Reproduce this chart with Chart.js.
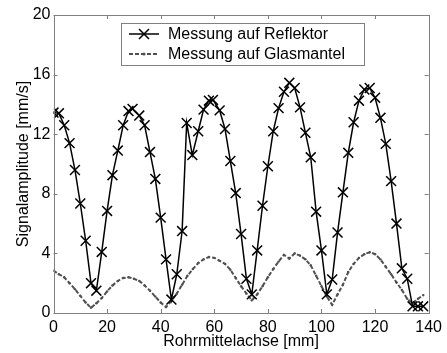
<!DOCTYPE html>
<html>
<head>
<meta charset="utf-8">
<script src="https://cdn.jsdelivr.net/npm/chart.js@4"></script>
<style>
  html, body { margin: 0; padding: 0; background: #fff; }
  #wrap { width: 447px; height: 353px; }
</style>
</head>
<body>
<div id="wrap"><canvas id="chart" width="447" height="353"></canvas></div>
<script>
// Messung auf Reflektor (x in mm, Amplitude in mm/s)
const reflX = [0, 2, 4, 6, 8, 10, 12, 14, 16, 18, 20, 22, 24, 26, 28, 29.5, 32, 34, 36, 38,
  40, 42, 44, 46, 48, 49.7, 51.8, 54, 56, 58, 59.5, 62, 64, 66, 68, 70, 72, 74, 76, 78,
  80, 82, 84, 86, 88, 90, 92, 94, 96, 98, 100, 102, 104, 106, 108, 110, 112, 114, 116, 118,
  120, 122, 124, 126, 128, 130, 132, 134, 136, 138];
const reflY = [13.45, 13.4, 12.6, 11.4, 9.6, 7.35, 4.85, 2.0, 1.5, 4.1, 6.85, 9.25, 10.9, 12.6, 13.55, 13.7, 13.25, 12.6, 10.8, 9.0,
  6.4, 3.6, 0.9, 2.6, 5.5, 12.75, 10.6, 12.2, 13.65, 14.25, 14.3, 13.6, 12.35, 10.2, 8.05, 5.3, 2.3, 1.25, 4.2, 7.2,
  9.85, 12.2, 13.75, 14.85, 15.45, 15.1, 13.8, 12.1, 10.45, 6.8, 4.2, 1.25, 2.25, 5.4, 8.1, 10.75, 12.8, 14.25, 15.0, 15.1,
  14.45, 13.1, 11.35, 8.85, 6.0, 3.0, 2.3, 0.45, 0.45, 0.45];

// Messung auf Glasmantel
const glasX = [0, 2, 4, 6, 8, 10, 12, 14, 16, 18, 20, 22, 24, 26, 28, 30, 32, 34, 36, 38,
  40, 42, 44, 46, 48, 50, 52, 54, 56, 58, 60, 62, 64, 66, 68, 70, 72, 74, 76, 78,
  80, 82, 84, 86, 88, 90, 92, 94, 96, 98, 100, 102, 104, 106, 108, 110, 112, 114, 116, 118,
  120, 122, 124, 126, 128, 130, 132, 134, 136, 138];
const glasY = [2.85, 2.6, 2.4, 2.0, 1.6, 1.15, 0.7, 0.35, 0.65, 1.0, 1.45, 1.85, 2.15, 2.35, 2.4, 2.3, 2.15, 1.85, 1.5, 1.1,
  0.7, 0.4, 0.8, 1.3, 1.9, 2.5, 2.95, 3.35, 3.6, 3.76, 3.7, 3.5, 3.3, 2.9, 2.35, 1.8, 1.3, 0.85, 1.25, 1.8,
  2.4, 2.95, 3.45, 3.9, 3.65, 4.0, 3.85, 3.6, 3.2, 2.5, 1.8, 1.1, 0.55, 1.25, 1.9, 2.75, 3.3, 3.7, 3.95, 4.08,
  3.95, 3.6, 3.1, 2.6, 2.05, 1.55, 0.95, 0.65, 0.95, 1.2];

const xTicks = [0, 20, 40, 60, 80, 100, 120, 140];
const yTicks = [0, 4, 8, 12, 16, 20];
const labels = ['Messung auf Reflektor', 'Messung auf Glasmantel'];

const FONT = 'Arial, "Liberation Sans", sans-serif';
const AXIS_COLOR = '#808080';

function toPoints(xs, ys) {
  return xs.map((x, i) => ({ x: x, y: ys[i] }));
}

// box around plot + ticks pointing inward (MATLAB look)
const boxTicks = {
  id: 'boxTicks',
  afterDraw(chart) {
    const { ctx, chartArea: a, scales } = chart;
    const len = 4;
    ctx.save();
    ctx.strokeStyle = AXIS_COLOR;
    ctx.lineWidth = 1;
    ctx.strokeRect(Math.round(a.left) + 0.5, Math.round(a.top) + 0.5,
      Math.round(a.right - a.left), Math.round(a.bottom - a.top));
    ctx.beginPath();
    xTicks.forEach(v => {
      const px = Math.round(scales.x.getPixelForValue(v)) + 0.5;
      ctx.moveTo(px, a.bottom); ctx.lineTo(px, a.bottom - len);
      ctx.moveTo(px, a.top); ctx.lineTo(px, a.top + len);
    });
    yTicks.forEach(v => {
      const py = Math.round(scales.y.getPixelForValue(v)) + 0.5;
      ctx.moveTo(a.left, py); ctx.lineTo(a.left + len, py);
      ctx.moveTo(a.right, py); ctx.lineTo(a.right - len, py);
    });
    ctx.stroke();
    ctx.restore();
  }
};

// legend box in upper right part of plot
const boxLegend = {
  id: 'boxLegend',
  afterDraw(chart) {
    const ctx = chart.ctx;
    const x0 = 121, y0 = 23, w = 243, h = 42;
    ctx.save();
    ctx.fillStyle = '#fff';
    ctx.fillRect(x0, y0, w, h);
    ctx.strokeStyle = AXIS_COLOR;
    ctx.lineWidth = 1;
    ctx.strokeRect(x0 + 0.5, y0 + 0.5, w, h);
    ctx.font = '16px ' + FONT;
    ctx.textBaseline = 'middle';
    const rows = [34, 54];
    chart.data.datasets.forEach((ds, i) => {
      const y = rows[i];
      ctx.strokeStyle = ds.borderColor;
      ctx.lineWidth = ds.borderWidth;
      ctx.setLineDash(ds.borderDash || []);
      ctx.beginPath();
      ctx.moveTo(129, y); ctx.lineTo(159, y);
      ctx.stroke();
      ctx.setLineDash([]);
      if (i === 0) {
        const r = 5;
        ctx.beginPath();
        ctx.moveTo(144 - r, y - r); ctx.lineTo(144 + r, y + r);
        ctx.moveTo(144 - r, y + r); ctx.lineTo(144 + r, y - r);
        ctx.stroke();
      } else {
        ctx.fillStyle = ds.borderColor;
        ctx.beginPath();
        ctx.arc(144, y, 1.5, 0, Math.PI * 2);
        ctx.fill();
      }
      ctx.fillStyle = '#000';
      ctx.fillText(labels[i], 168, y + 1);
    });
    ctx.restore();
  }
};

new Chart(document.getElementById('chart'), {
  type: 'line',
  data: {
    datasets: [
      {
        label: labels[0],
        data: toPoints(reflX, reflY),
        borderColor: '#000',
        borderWidth: 1.5,
        pointStyle: 'crossRot',
        pointRadius: 7,
        pointBorderColor: '#000',
        pointBorderWidth: 1.5,
        tension: 0,
        fill: false
      },
      {
        label: labels[1],
        data: toPoints(glasX, glasY),
        borderColor: '#505050',
        borderWidth: 2,
        borderDash: [4, 2],
        pointStyle: 'circle',
        pointRadius: 1.2,
        pointBackgroundColor: '#505050',
        pointBorderWidth: 0,
        tension: 0,
        fill: false
      }
    ]
  },
  options: {
    responsive: false,
    animation: false,
    layout: { padding: { top: 15, right: 17, bottom: 0, left: 0 } },
    plugins: {
      legend: { display: false },
      tooltip: { enabled: false }
    },
    scales: {
      x: {
        type: 'linear',
        min: 0, max: 140,
        afterFit(s) { s.height = 40; },
        afterBuildTicks(s) { s.ticks = xTicks.map(v => ({ value: v })); },
        grid: { display: false, drawTicks: false },
        border: { display: false },
        ticks: { color: '#000', font: { family: FONT, size: 16 }, padding: 5, maxRotation: 0 },
        title: { display: true, text: 'Rohrmittelachse [mm]', color: '#000',
          font: { family: FONT, size: 16 }, padding: { top: 0, bottom: 2 } }
      },
      y: {
        min: 0, max: 20,
        afterFit(s) { s.width = 53.5; },
        afterBuildTicks(s) { s.ticks = yTicks.map(v => ({ value: v })); },
        grid: { display: false, drawTicks: false },
        border: { display: false },
        ticks: { color: '#000', font: { family: FONT, size: 16 }, padding: 3 },
        title: { display: true, text: 'Signalamplitude [mm/s]', color: '#000',
          font: { family: FONT, size: 16 }, padding: { top: 14, bottom: 0 } }
      }
    }
  },
  plugins: [boxTicks, boxLegend]
});
</script>
</body>
</html>
